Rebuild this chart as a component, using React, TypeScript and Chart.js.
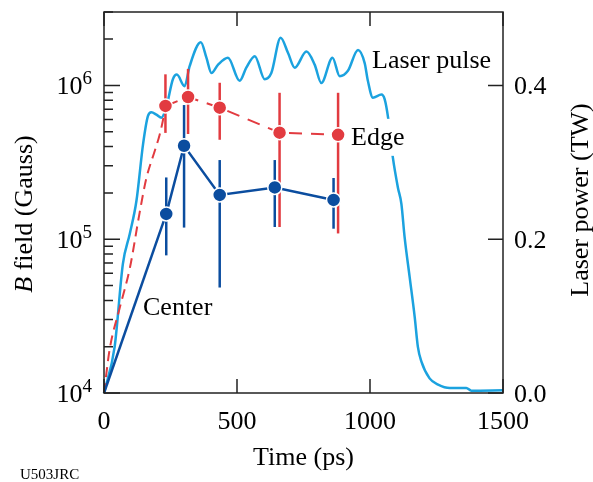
import { useEffect, useRef } from 'react';
import { Chart, registerables } from 'chart.js';

Chart.register(...registerables);

// ---------- data ----------
const laserTime = [0, 40, 71, 97, 122, 147, 165, 178, 197, 216, 235, 259, 274, 303, 322, 364, 385, 404, 429, 466, 510, 535, 567, 604, 629, 664, 692, 717, 761, 792, 817, 859, 886, 917, 955, 980, 992, 1011, 1043, 1055, 1068, 1086, 1105, 1118, 1130, 1149, 1168, 1180, 1193, 1224, 1256, 1300, 1362, 1381, 1500];
const laserPower = [0, 0.06, 0.168, 0.207, 0.25, 0.324, 0.36, 0.365, 0.362, 0.358, 0.373, 0.408, 0.414, 0.399, 0.425, 0.456, 0.436, 0.416, 0.427, 0.436, 0.406, 0.423, 0.438, 0.408, 0.416, 0.462, 0.442, 0.423, 0.444, 0.427, 0.403, 0.436, 0.412, 0.419, 0.446, 0.429, 0.406, 0.384, 0.388, 0.382, 0.358, 0.306, 0.267, 0.246, 0.203, 0.151, 0.099, 0.06, 0.041, 0.019, 0.011, 0.0065, 0.0065, 0.003, 0.0036];

const edgeRiseTime = [0, 21, 59, 97, 134, 159, 191, 209, 221, 231];
const edgeRiseB = [1e4, 1.91e4, 3.57e4, 6.47e4, 1.49e5, 2.48e5, 3.76e5, 4.76e5, 5.87e5, 7.35e5];

const edgeTime = [231, 316, 435, 660, 880];
const edgeB = [7.35e5, 8.4e5, 7.16e5, 4.93e5, 4.77e5];
const edgeHigh = [1.18e6, 1.28e6, 1.04e6, 8.95e5, 8.95e5];
const edgeLow = [4.91e5, 4.83e5, 4.43e5, 1.2e5, 1.09e5];

const centerRiseTime = [0, 234];
const centerRiseB = [1e4, 1.46e5];

const centerTime = [234, 301, 435, 642, 863];
const centerB = [1.46e5, 4.05e5, 1.94e5, 2.17e5, 1.8e5];
const centerHigh = [2.52e5, 7.45e5, 3.27e5, 3.27e5, 2.5e5];
const centerLow = [7.85e4, 1.19e5, 4.85e4, 1.2e5, 1.17e5];

const xTickValues = [0, 500, 1000, 1500];
const xTickLabels = ['0', '500', '1000', '1500'];
const leftMajorValues = [1e4, 1e5, 1e6];
const leftExponents = ['4', '5', '6'];
const rightTickValues = [0, 0.2, 0.4];
const rightTickLabels = ['0.0', '0.2', '0.4'];

const X_MAX = 1500;
const B_MIN = 1e4;
const B_MAX = 3e6;
const P_MAX = 0.2 * Math.log10(B_MAX / B_MIN); // same vertical span as left axis

const CYAN = '#1ba2df';
const RED = '#e23b40';
const BLUE = '#0b4d9f';
const AXIS = '#222';
const FONT = '"Liberation Serif", "Times New Roman", serif';

const zip = (xs: number[], ys: number[]) => xs.map((x, i) => ({ x, y: ys[i] }));

const overlay = {
  id: 'overlay',
  beforeDatasetDraw(chart: any, args: any) {
    const ds = chart.data.datasets[args.index];
    if (!ds.errLow) return;
    const ctx = chart.ctx;
    const xs = chart.scales.x;
    const ys = chart.scales.y;
    ctx.save();
    ctx.strokeStyle = ds.borderColor;
    ctx.lineWidth = 2.5;
    ctx.setLineDash([]);
    ds.data.forEach((p: any, i: number) => {
      const x = xs.getPixelForValue(p.x);
      ctx.beginPath();
      ctx.moveTo(x, ys.getPixelForValue(ds.errHigh[i]));
      ctx.lineTo(x, ys.getPixelForValue(ds.errLow[i]));
      ctx.stroke();
    });
    ctx.restore();
  },
  afterDatasetsDraw(chart: any) {
    const ctx = chart.ctx;
    const { left, right, top, bottom } = chart.chartArea;
    const xs = chart.scales.x;
    const ys = chart.scales.y;
    const y2 = chart.scales.y2;
    ctx.save();

    // "Edge" label box (occludes the laser curve)
    ctx.font = `26px ${FONT}`;
    const edgeX = xs.getPixelForValue(edgeTime[4]) + 13;
    const edgeY = ys.getPixelForValue(edgeB[4]) + 10;
    const ew = ctx.measureText('Edge').width;
    ctx.fillStyle = '#fff';
    ctx.fillRect(edgeX - 2, edgeY - 26, ew + 4, 37);

    // frame
    ctx.strokeStyle = AXIS;
    ctx.lineWidth = 1.5;
    ctx.strokeRect(left, top, right - left, bottom - top);

    // ticks
    ctx.beginPath();
    xTickValues.forEach((v) => {
      const x = xs.getPixelForValue(v);
      ctx.moveTo(x, bottom); ctx.lineTo(x, bottom - 14);
      ctx.moveTo(x, top); ctx.lineTo(x, top + 14);
    });
    for (let d = B_MIN; d <= B_MAX; d *= 10) {
      for (let m = 1; m <= 9; m++) {
        const v = d * m;
        if (v > B_MAX) break;
        const y = ys.getPixelForValue(v);
        ctx.moveTo(left, y); ctx.lineTo(left + (m === 1 ? 16 : 9), y);
      }
    }
    rightTickValues.forEach((v) => {
      const y = y2.getPixelForValue(v);
      ctx.moveTo(right, y); ctx.lineTo(right - 15, y);
    });
    ctx.stroke();

    ctx.fillStyle = '#000';
    // x tick labels
    ctx.font = `26px ${FONT}`;
    ctx.textAlign = 'center';
    ctx.textBaseline = 'alphabetic';
    xTickValues.forEach((v, i) => {
      ctx.fillText(xTickLabels[i], xs.getPixelForValue(v), bottom + 36);
    });
    // right tick labels
    ctx.textAlign = 'left';
    rightTickValues.forEach((v, i) => {
      ctx.fillText(rightTickLabels[i], right + 11, y2.getPixelForValue(v) + 9);
    });
    // left tick labels 10^n
    leftMajorValues.forEach((v, i) => {
      const y = ys.getPixelForValue(v);
      ctx.font = `19px ${FONT}`;
      const ewid = ctx.measureText(leftExponents[i]).width;
      ctx.textAlign = 'right';
      ctx.fillText(leftExponents[i], left - 12, y - 1);
      ctx.font = `26px ${FONT}`;
      ctx.fillText('10', left - 12 - ewid, y + 9);
    });

    // x title
    ctx.textAlign = 'center';
    ctx.font = `26px ${FONT}`;
    ctx.fillText('Time (ps)', (left + right) / 2, bottom + 72);

    // left title (rotated)
    ctx.save();
    ctx.translate(32, 214);
    ctx.rotate(-Math.PI / 2);
    ctx.textAlign = 'left';
    ctx.font = `italic 26px ${FONT}`;
    const wB = ctx.measureText('B').width;
    ctx.font = `26px ${FONT}`;
    const rest = ' field (Gauss)';
    const wR = ctx.measureText(rest).width;
    const x0 = -(wB + wR) / 2;
    ctx.font = `italic 26px ${FONT}`;
    ctx.fillText('B', x0, 0);
    ctx.font = `26px ${FONT}`;
    ctx.fillText(rest, x0 + wB, 0);
    ctx.restore();

    // right title (rotated)
    ctx.save();
    ctx.translate(588, 200);
    ctx.rotate(-Math.PI / 2);
    ctx.textAlign = 'center';
    ctx.font = `26px ${FONT}`;
    ctx.fillText('Laser power (TW)', 0, 0);
    ctx.restore();

    // annotations
    ctx.textAlign = 'left';
    ctx.font = `26px ${FONT}`;
    ctx.fillText('Laser pulse', 372, 68);
    ctx.fillText('Edge', edgeX, edgeY);
    ctx.fillText('Center', xs.getPixelForValue(centerRiseTime[0]) + 39, 315);

    ctx.font = `15px ${FONT}`;
    ctx.fillText('U503JRC', 20, 479);

    ctx.restore();
  },
};

export default function App() {
  const ref = useRef<HTMLCanvasElement | null>(null);
  useEffect(() => {
    document.body.style.margin = '0';
    const canvas = ref.current!;
    const chart = new Chart(canvas, {
      type: 'line',
      data: {
        datasets: [
          {
            label: 'Center',
            data: zip(centerTime, centerB),
            borderColor: BLUE,
            backgroundColor: BLUE,
            borderWidth: 2.5,
            pointRadius: 7,
            pointHoverRadius: 7,
            pointBorderColor: '#fff',
            pointBorderWidth: 1.5,
            pointBackgroundColor: BLUE,
            tension: 0,
            yAxisID: 'y',
            clip: false,
            errLow: centerLow,
            errHigh: centerHigh,
          } as any,
          {
            label: 'Center rise',
            data: zip(centerRiseTime, centerRiseB),
            borderColor: BLUE,
            borderWidth: 2.5,
            pointRadius: 0,
            tension: 0,
            yAxisID: 'y',
            clip: false,
          },
          {
            label: 'Edge',
            data: zip(edgeTime, edgeB),
            borderColor: RED,
            backgroundColor: RED,
            borderWidth: 2,
            borderDash: [13, 9],
            pointRadius: 7,
            pointHoverRadius: 7,
            pointBorderColor: '#fff',
            pointBorderWidth: 1.5,
            pointBackgroundColor: RED,
            tension: 0,
            yAxisID: 'y',
            clip: false,
            errLow: edgeLow,
            errHigh: edgeHigh,
          } as any,
          {
            label: 'Edge rise',
            data: zip(edgeRiseTime, edgeRiseB),
            borderColor: RED,
            borderWidth: 2,
            borderDash: [10, 6],
            pointRadius: 0,
            cubicInterpolationMode: 'monotone',
            yAxisID: 'y',
            clip: false,
          },
          {
            label: 'Laser pulse',
            data: zip(laserTime, laserPower),
            borderColor: CYAN,
            borderWidth: 2.5,
            pointRadius: 0,
            cubicInterpolationMode: 'monotone',
            yAxisID: 'y2',
            clip: false,
          },
        ],
      },
      options: {
        animation: false,
        responsive: false,
        events: [],
        layout: { padding: { left: 104, top: 12, right: 90, bottom: 89 } },
        plugins: { legend: { display: false }, tooltip: { enabled: false } },
        scales: {
          x: { type: 'linear', min: 0, max: X_MAX, display: false },
          y: { type: 'logarithmic', min: B_MIN, max: B_MAX, display: false },
          y2: { type: 'linear', min: 0, max: P_MAX, display: false },
        },
      },
      plugins: [overlay],
    });
    return () => chart.destroy();
  }, []);
  return (
    <div style={{ position: 'fixed', left: 0, top: 0, width: 593, height: 482, background: '#fff' }}>
      <canvas ref={ref} width={593} height={482} />
    </div>
  );
}
